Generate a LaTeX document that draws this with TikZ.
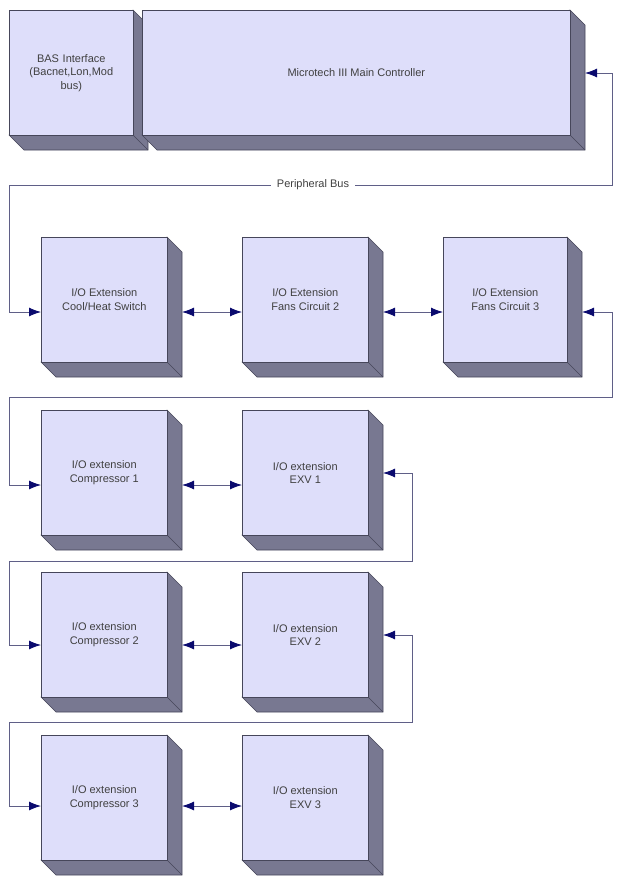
\documentclass[tikz,border=0pt]{standalone}
\usepackage{fontspec}
\setmainfont{Liberation Sans}
\usetikzlibrary{arrows.meta}
\definecolor{face}{RGB}{222,222,250}
\definecolor{side}{RGB}{120,120,145}
\definecolor{edge}{RGB}{70,70,90}
\definecolor{wire}{RGB}{95,95,135}
\definecolor{tip}{RGB}{10,10,110}
\begin{document}
\begin{tikzpicture}[x=1pt,y=-1pt,
  box/.style={draw=edge,fill=face,line width=0.6pt,inner sep=0pt,anchor=north west,align=center,font=\fontsize{11}{13.5}\selectfont\color{black!75}},
  wire/.style={draw=wire,line width=0.9pt},
  tp/.style={-{Latex[length=12pt,width=9pt,color=tip]}},
  tt/.style={{Latex[length=12pt,width=9pt,color=tip]}-{Latex[length=12pt,width=9pt,color=tip]}},
  ts/.style={{Latex[length=12pt,width=9pt,color=tip]}-}]
\useasboundingbox (0,0) rectangle (618,884);
\def\d{15}
\foreach \x/\y/\w/\h in {9/10/124/125,142/10/428/125,41/237/126/125,242/237/126/125,443/237/124/125,41/410/126/125,242/410/126/125,41/572/126/125,242/572/126/125,41/735/126/125,242/735/126/125}{
  \fill[side,draw=edge,line width=0.6pt] (\x+\w,\y) -- (\x+\w+\d,\y+\d) -- (\x+\w+\d,\y+\h+\d) -- (\x+\d,\y+\h+\d) -- (\x,\y+\h) -- cycle;
  \draw[edge,line width=0.6pt] (\x+\w,\y+\h) -- (\x+\w+\d,\y+\h+\d);
}
\node[box,minimum width=124pt,minimum height=125pt,text width=110pt] (bas) at (9,10) {BAS Interface\\(Bacnet,Lon,Mod\\bus)};
\node[box,minimum width=428pt,minimum height=125pt] (main) at (142,10) {Microtech III Main Controller};
\node[box,minimum width=126pt,minimum height=125pt] (b1) at (41,237) {I/O Extension\\Cool/Heat Switch};
\node[box,minimum width=126pt,minimum height=125pt] (b2) at (242,237) {I/O Extension\\Fans Circuit 2};
\node[box,minimum width=124pt,minimum height=125pt] (b3) at (443,237) {I/O Extension\\Fans Circuit 3};
\node[box,minimum width=126pt,minimum height=125pt] (c1) at (41,410) {I/O extension\\Compressor 1};
\node[box,minimum width=126pt,minimum height=125pt] (e1) at (242,410) {I/O extension\\EXV 1};
\node[box,minimum width=126pt,minimum height=125pt] (c2) at (41,572) {I/O extension\\Compressor 2};
\node[box,minimum width=126pt,minimum height=125pt] (e2) at (242,572) {I/O extension\\EXV 2};
\node[box,minimum width=126pt,minimum height=125pt] (c3) at (41,735) {I/O extension\\Compressor 3};
\node[box,minimum width=126pt,minimum height=125pt] (e3) at (242,735) {I/O extension\\EXV 3};
\node[font=\fontsize{11}{13.5}\selectfont\color{black!75},fill=white,inner sep=6pt] (pb) at (313,185) {Peripheral Bus};
\coordinate (mR) at (585,73);
\draw[wire,ts] (mR) -- (612,73) -- (612,185) -- (pb.east);
\draw[wire,tp] (pb.west) -- (9,185) -- (9,312) -- (b1.west |- 0,312);
\draw[wire,tt] (182,312) -- (b2.west |- 0,312);
\draw[wire,tt] (383,312) -- (b3.west |- 0,312);
\draw[wire,tt] (582,312) -- (612,312) -- (612,397) -- (9,397) -- (9,485) -- (c1.west |- 0,485);
\draw[wire,tt] (182,485) -- (e1.west |- 0,485);
\draw[wire,tt] (383,473) -- (412,473) -- (412,561) -- (9,561) -- (9,645) -- (c2.west |- 0,645);
\draw[wire,tt] (182,645) -- (e2.west |- 0,645);
\draw[wire,tt] (383,635) -- (412,635) -- (412,722) -- (9,722) -- (9,806) -- (c3.west |- 0,806);
\draw[wire,tt] (182,806) -- (e3.west |- 0,806);
\end{tikzpicture}
\end{document}
